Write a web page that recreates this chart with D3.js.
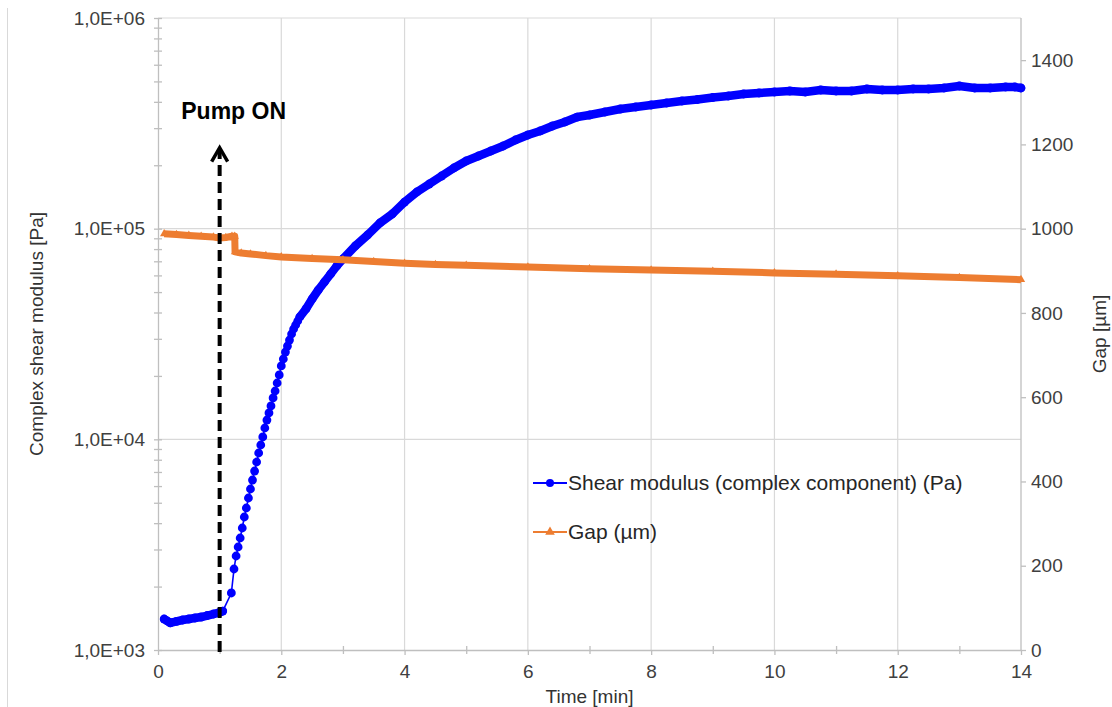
<!DOCTYPE html>
<html><head><meta charset="utf-8">
<script src="https://cdn.jsdelivr.net/npm/d3@7"></script>
<style>body{margin:0;background:#fff}svg{display:block;font-family:"Liberation Sans",Arial,sans-serif}</style>
</head><body><svg id="c" width="1112" height="707"></svg>
<script>
// ---------- data ----------
const shearTime = [0.10,0.15,0.20,0.30,0.40,0.50,0.60,0.70,0.80,0.90,1.00,1.05,1.19,
 1.233,1.267,1.300,1.333,1.367,1.400,1.433,1.467,1.500,1.533,1.567,1.600,1.633,1.667,1.700,1.733,1.767,1.800,1.833,1.867,1.900,1.933,1.967,2.000,2.033,2.067,2.100,2.133,2.167,2.200,2.233,2.267,2.300,
 2.4,2.5,2.6,2.7,2.8,2.9,3.0,3.2,3.4,3.6,3.8,4.0,4.2,4.4,4.6,4.8,5.0,5.2,5.4,5.6,5.8,6.0,6.2,6.4,6.6,6.8,7.0,7.25,7.5,7.75,8.0,8.25,8.5,8.75,9.0,9.25,9.5,9.75,10.0,10.25,10.5,10.75,11.0,11.25,11.5,11.75,12.0,12.25,12.5,12.75,13.0,13.25,13.5,13.75,13.9,14.0];
const shearValue = [1403,1373,1344,1366,1388,1403,1419,1434,1458,1482,1507,1531,1865,
 2424,2794,3083,3401,3794,4279,4721,5267,5810,6410,7073,7805,8613,9400,10260,11320,12350,13340,14400,15720,16960,18510,20210,22300,24060,25970,27730,29610,31620,33400,34890,36450,38080,
 41570,46360,51150,55830,60930,66500,71780,82750,93310,106400,117400,133800,149300,162900,177800,194100,209500,221300,233700,246800,263600,278400,290800,307200,320900,338800,346300,357900,369800,378000,386400,394900,403600,410300,419400,426300,435700,440600,445400,450300,445400,455200,450300,450300,460200,455200,455200,460200,460200,465300,475600,465300,465300,470400,470400,465300];
const gapTime = [0.10,0.30,0.50,0.70,0.90,1.00,1.10,1.20,1.245,1.25,1.35,1.50,1.75,2.00,2.50,3.00,3.50,4.00,4.50,5.00,6.00,7.00,8.00,9.00,10.00,11.00,12.00,13.00,14.00];
const gapValue = [988,986,984,982,980,978,979,982,982,945,942,940,936,933,929,926,922,918,915,913,909,905,902,899,895,892,888,884,879];

const xTicks = [0,2,4,6,8,10,12,14];
const xMinorTicks = [1,3,5,7,9,11,13];
const leftTicks = [1e3,1e4,1e5,1e6];
const leftTickLabels = ["1,0E+03","1,0E+04","1,0E+05","1,0E+06"];
const rightTicks = [0,200,400,600,800,1000,1200,1400];
const seriesNames = ["Shear modulus (complex component) (Pa)","Gap (\u00b5m)"];
const xTitle = "Time [min]";
const yLeftTitle = "Complex shear modulus [Pa]";
const yRightTitle = "Gap [\u00b5m]";
const pumpTime = 1.0, pumpArrowTop = 2.45e5, pumpLabel = "Pump ON";

// ---------- chart ----------
const svg = d3.select("#c");
const blue = "#0000ff", orange = "#ed7d31", grid = "#d9d9d9", axisC = "#bfbfbf", txt = "#404040";
const x = d3.scaleLinear().domain([0,14]).range([158,1021]);
const yL = d3.scaleLog().domain([1e3,1e6]).range([650,18]);
const yR = d3.scaleLinear().domain([0,1500]).range([650,18]);

// outer border line on the left
svg.append("line").attr("x1",7.5).attr("x2",7.5).attr("y1",8).attr("y2",707).attr("stroke",grid);

// gridlines
svg.append("g").selectAll("line").data(xTicks.filter(d=>d>0&&d<14)).join("line")
  .attr("x1",d=>x(d)).attr("x2",d=>x(d)).attr("y1",yL(1e6)).attr("y2",yL(1e3))
  .attr("stroke",grid).attr("stroke-width",1.2);
svg.append("g").selectAll("line").data(leftTicks.filter(d=>d>1e3)).join("line")
  .attr("x1",x(0)).attr("x2",x(14)).attr("y1",d=>yL(d)).attr("y2",d=>yL(d))
  .attr("stroke",grid).attr("stroke-width",1.2);

function styleAxis(g){
  g.select(".domain").attr("stroke",axisC).attr("stroke-width",1.3);
  g.selectAll(".tick line").attr("stroke",axisC).attr("stroke-width",1.3);
  g.selectAll("text").attr("fill",txt).style("font-size","19px").style("font-family",'"Liberation Sans",Arial,sans-serif');
}

// left axis
const minorLeft = [];
[1e3,1e4,1e5].forEach(dec=>{for(let m=2;m<=9;m++) minorLeft.push(dec*m);});
const gLm = svg.append("g").attr("transform",`translate(${x(0)},0)`)
  .call(d3.axisLeft(yL).tickValues(minorLeft).tickFormat("").tickSize(4).tickSizeOuter(0));
gLm.select(".domain").remove();
gLm.selectAll(".tick line").attr("x1",4);
styleAxis(gLm);
const gL = svg.append("g").attr("transform",`translate(${x(0)},0)`)
  .call(d3.axisLeft(yL).tickValues(leftTicks).tickFormat((d,i)=>leftTickLabels[i]).tickSize(4).tickSizeOuter(0).tickPadding(9));
gL.selectAll(".tick line").attr("x1",4);
styleAxis(gL);

// bottom axis
const gBm = svg.append("g").attr("transform",`translate(0,${yL(1e3)})`)
  .call(d3.axisBottom(x).tickValues(xMinorTicks).tickFormat("").tickSize(4).tickSizeOuter(0));
gBm.select(".domain").remove();
gBm.selectAll(".tick line").attr("y1",-4);
styleAxis(gBm);
const gB = svg.append("g").attr("transform",`translate(0,${yL(1e3)})`)
  .call(d3.axisBottom(x).tickValues(xTicks).tickFormat(d3.format("d")).tickSize(5).tickSizeOuter(0).tickPadding(10));
styleAxis(gB);

// right axis
const gR = svg.append("g").attr("transform",`translate(${x(14)},0)`)
  .call(d3.axisRight(yR).tickValues(rightTicks).tickFormat(d3.format("d")).tickSize(5).tickSizeOuter(0).tickPadding(5));
gR.select(".domain").attr("d",`M0,${yR(0)}V${yL(1e6)}`);
styleAxis(gR);

// axis titles
svg.append("text").attr("x",x(7)).attr("y",703).attr("text-anchor","middle")
  .attr("fill","#333").style("font-size","19px").text(xTitle);
svg.append("text").attr("transform",`translate(43,334) rotate(-90)`).attr("text-anchor","middle")
  .attr("fill","#333").style("font-size","19px").text(yLeftTitle);
svg.append("text").attr("transform",`translate(1106,334) rotate(-90)`).attr("text-anchor","middle")
  .attr("fill","#333").style("font-size","19px").text(yRightTitle);

// shear modulus series
const pts = shearTime.map((t,i)=>({t, v:shearValue[i]}));
const lineS = d3.line().x(d=>x(d.t)).y(d=>yL(d.v));
const gS = svg.append("g");
gS.append("path").datum(pts).attr("d",lineS).attr("fill","none").attr("stroke",blue).attr("stroke-width",1.6);
[pts.filter(p=>p.t<=1.06), pts.filter(p=>p.t>=2.29)].forEach(seg=>{
  gS.append("path").datum(seg).attr("d",lineS).attr("fill","none").attr("stroke",blue)
    .attr("stroke-width",8.5).attr("stroke-linejoin","round").attr("stroke-linecap","round");
});
gS.selectAll("circle").data(pts).join("circle").attr("cx",d=>x(d.t)).attr("cy",d=>yL(d.v)).attr("r",4.4).attr("fill",blue);

// gap series
const gpts = gapTime.map((t,i)=>({t, v:gapValue[i]}));
const lineG = d3.line().x(d=>x(d.t)).y(d=>yR(d.v));
const gG = svg.append("g");
gG.append("path").datum(gpts).attr("d",lineG).attr("fill","none").attr("stroke",orange)
  .attr("stroke-width",7).attr("stroke-linejoin","round");
const tri = d3.symbol(d3.symbolTriangle).size(30);
gG.selectAll("path.m").data(gpts).join("path").attr("class","m").attr("d",tri)
  .attr("transform",d=>`translate(${x(d.t)},${yR(d.v)})`).attr("fill",orange);

// pump annotation
const ax = x(pumpTime), ayTop = yL(pumpArrowTop);
svg.append("line").attr("x1",ax).attr("x2",ax).attr("y1",yL(1e3)+2).attr("y2",ayTop+4)
  .attr("stroke","#000").attr("stroke-width",4).attr("stroke-dasharray","11,6");
svg.append("path").attr("d",`M${ax-8},${ayTop+15}L${ax},${ayTop+1}L${ax+8},${ayTop+15}`)
  .attr("fill","none").attr("stroke","#000").attr("stroke-width",3.5);
svg.append("text").attr("x",ax+14).attr("y",119).attr("text-anchor","middle")
  .attr("fill","#000").style("font-size","23px").style("font-weight","bold").text(pumpLabel);

// legend
const lg = svg.append("g");
const rows = [{y:483, c:blue, sym:"c"},{y:532, c:orange, sym:"t"}];
rows.forEach((r,i)=>{
  lg.append("line").attr("x1",533).attr("x2",567).attr("y1",r.y).attr("y2",r.y).attr("stroke",r.c).attr("stroke-width",2);
  if(r.sym==="c") lg.append("circle").attr("cx",550).attr("cy",r.y).attr("r",4).attr("fill",r.c);
  else lg.append("path").attr("d",d3.symbol(d3.symbolTriangle).size(40)).attr("transform",`translate(550,${r.y})`).attr("fill",r.c);
  lg.append("text").attr("x",568).attr("y",r.y+7).attr("fill","#262626").style("font-size","21px").text(seriesNames[i]);
});
</script></body></html>
